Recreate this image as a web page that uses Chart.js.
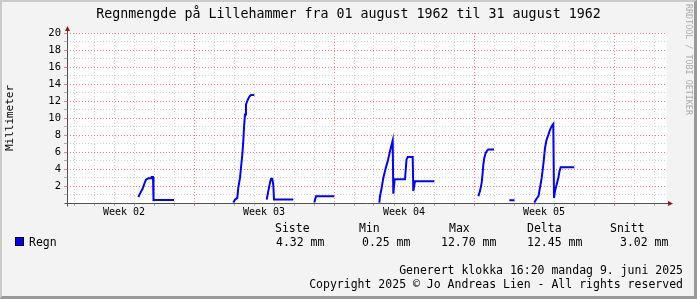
<!DOCTYPE html>
<html lang="no">
<head>
  <meta charset="UTF-8" />
  <title>Regnmengde på Lillehammer</title>
  <script src="https://cdn.jsdelivr.net/npm/chart.js"></script>
  <style>
    html, body { margin: 0; padding: 0; background: #f3f3f3; }
    #wrap {
      position: relative; width: 697px; height: 299px; overflow: hidden;
      font-family: "DejaVu Sans Mono", monospace; color: #000;
    }
    #wrap canvas { position: absolute; left: 0; top: 0; }
    #title {
      position: absolute; left: 0; top: 6px; width: 697px; text-align: center;
      font-size: 13.3px; line-height: 16px; white-space: pre;
    }
    .txt { position: absolute; white-space: pre; font-size: 11.5px; line-height: 14px; }
    .right { right: 14px; text-align: right; }
    #swatch {
      position: absolute; left: 15px; top: 237px; width: 7px; height: 7px;
      background: #0000ff; border: 1px solid #000;
    }
    #vendor {
      position: absolute; left: 685px; top: 4px; writing-mode: vertical-rl;
      font-size: 8.4px; line-height: 8px; color: #ababab; white-space: pre;
    }
    #frame {
      position: absolute; left: 0; top: 0; width: 697px; height: 299px; box-sizing: border-box;
      border-style: solid; border-width: 2px 3px 3px 2px;
      border-color: #cbcbcb #999 #999 #cbcbcb; pointer-events: none;
    }
  </style>
</head>
<body>
  <div id="wrap">
    <canvas id="rainChart" width="697" height="299"></canvas>
    <div id="title">Regnmengde på Lillehammer fra 01 august 1962 til 31 august 1962</div>
    <div id="vendor">RRDTOOL / TOBI OETIKER</div>
    <div id="legend"></div>
    <div id="frame"></div>
  </div>

  <script>
    // dag i perioden (0 = venstre kant av grafen) og nedbør i mm, null = hull i dataene
    const dayOfPeriod = [
      3.565, 3.65, 3.785, 3.865, 3.95, 4.065, 4.2, 4.235, 4.3, 4.325, 5.35, 5.8,
      8.315, 8.4, 8.515, 8.565, 8.65, 8.7, 8.765, 8.815, 8.85, 8.9, 8.95, 9.015, 9.1, 9.15, 9.2, 9.365, 9.6,
      9.985, 10.065, 10.15, 10.2, 10.265, 10.315, 10.35, 11.315, 11.8,
      12.365, 12.45, 13.365, 14.0,
      15.615, 15.65, 15.735, 15.815, 15.935, 16.035, 16.15, 16.235, 16.285, 16.315, 16.385,
      16.9, 16.975, 17.035, 17.285, 17.315, 17.4, 18.365, 19.0,
      20.565, 20.65, 20.735, 20.785, 20.815, 20.865, 20.935, 21.015, 21.065, 21.35, 21.7,
      22.115, 22.375, 22.8,
      23.365, 23.475, 23.575, 23.65, 23.735, 23.815, 23.9, 23.975, 24.065, 24.15, 24.25, 24.315,
      24.35, 24.4, 24.485, 24.565, 24.625, 24.685, 25.365
    ];
    const rainMm = [
      0.7, 1.1, 1.7, 2.25, 2.75, 2.9, 2.9, 3.05, 3.05, 0.35, 0.35, null,
      0.05, 0.4, 0.6, 1.8, 2.95, 4.15, 5.7, 7.25, 8.85, 10.4, 11.6, 12.0, 12.45, 12.6, 12.7, 12.7, null,
      0.4, 1.4, 2.4, 2.85, 2.85, 2.1, 0.4, 0.4, null,
      0.05, 0.8, 0.8, null,
      0.05, 0.8, 1.8, 2.95, 4.1, 4.9, 6.1, 6.9, 7.35, 1.1, 2.8,
      2.8, 5.1, 5.4, 5.4, 1.4, 2.55, 2.55, null,
      0.8, 1.4, 2.4, 3.6, 4.5, 5.3, 5.9, 6.2, 6.3, 6.3, null,
      0.33, 0.33, null,
      0.05, 0.5, 0.8, 1.8, 2.95, 4.5, 6.45, 7.4, 8.0, 8.6, 9.1, 9.3,
      0.6, 1.4, 2.2, 2.95, 3.75, 4.2, 4.2
    ];

    const weekLabels = ["Week 02", "Week 03", "Week 04", "Week 05"];
    const weekCenters = [2.85, 9.85, 16.85, 23.85]; // midt i hver uke
    const firstDayLine = 0.35; // første døgnskille
    const firstWeekLine = 6.35; // første ukeskille

    const statHeaders = ["Siste", "Min", "Max", "Delta", "Snitt"];
    const statValues = ["4.32 mm", "0.25 mm", "12.70 mm", "12.45 mm", "3.02 mm"];
    const seriesName = "Regn";
    const footerLines = [
      "Generert klokka 16:20 mandag 9. juni 2025",
      "Copyright 2025 © Jo Andreas Lien - All rights reserved"
    ];

    // plassering av legend-kolonnene
    const headerX = [275, 359, 449, 527, 610];
    const valueX = [276, 362, 441, 527, 620];

    const GRID = "#d2d2d2";
    const MGRID = "#f58080";
    const FONT = '"DejaVu Sans Mono", monospace';

    // legend og bunntekst
    const legend = document.getElementById("legend");
    let html = '<div id="swatch"></div><div class="txt" style="left:29px;top:235px">' + seriesName + "</div>";
    statHeaders.forEach((h, i) => {
      html += '<div class="txt" style="left:' + headerX[i] + 'px;top:221px">' + h + "</div>";
      html += '<div class="txt" style="left:' + valueX[i] + 'px;top:235px">' + statValues[i] + "</div>";
    });
    html += '<div class="txt right" style="top:263px">' + footerLines[0] + "</div>";
    html += '<div class="txt right" style="top:277px">' + footerLines[1] + "</div>";
    legend.innerHTML = html;

    // bakgrunn, akser og piler
    const rrdFrame = {
      id: "rrdFrame",
      beforeDraw(chart) {
        const { ctx, chartArea: a } = chart;
        ctx.save();
        ctx.fillStyle = "#f3f3f3";
        ctx.fillRect(0, 0, chart.width, chart.height);
        ctx.fillStyle = "#ffffff";
        ctx.fillRect(a.left, a.top, a.right - a.left, a.bottom - a.top);
        ctx.restore();
      },
      beforeDatasetsDraw(chart) {
        const { ctx, chartArea: a } = chart;
        const x0 = a.left + 0.5, y0 = a.bottom + 0.5;
        ctx.save();
        ctx.strokeStyle = "#505050";
        ctx.lineWidth = 1;
        ctx.beginPath();
        ctx.moveTo(x0, y0 + 3); ctx.lineTo(x0, a.top - 2);
        ctx.moveTo(x0 - 3, y0); ctx.lineTo(a.right + 2, y0);
        ctx.stroke();
        ctx.fillStyle = "#8b1a1a";
        ctx.beginPath();
        ctx.moveTo(x0 - 2.5, a.top - 2); ctx.lineTo(x0 + 2.5, a.top - 2); ctx.lineTo(x0, a.top - 7);
        ctx.fill();
        ctx.beginPath();
        ctx.moveTo(a.right + 1, y0 - 2.5); ctx.lineTo(a.right + 1, y0 + 2.5); ctx.lineTo(a.right + 6, y0);
        ctx.fill();
        ctx.restore();
      }
    };

    const points = dayOfPeriod.map((d, i) => ({ x: d, y: rainMm[i] }));

    new Chart(document.getElementById("rainChart"), {
      type: "line",
      data: {
        datasets: [{
          label: seriesName,
          data: points,
          borderColor: "#0000ff",
          borderWidth: 2,
          borderJoinStyle: "miter",
          pointRadius: 0,
          tension: 0,
          spanGaps: false,
          fill: false
        }]
      },
      options: {
        responsive: false,
        animation: false,
        layout: { padding: { left: 0, top: 33, right: 30, bottom: 76 } },
        plugins: { legend: { display: false }, tooltip: { enabled: false } },
        scales: {
          x: {
            type: "linear",
            min: 0,
            max: 30,
            afterFit: s => { s.height = 20; },
            afterBuildTicks: s => {
              const t = [];
              for (let k = 0; k < 30; k++) {
                const v = firstDayLine + k;
                const isWeek = Math.abs(((v - firstWeekLine) % 7 + 7) % 7) < 1e-6;
                t.push({ value: v, kind: isWeek ? "week" : "day" });
              }
              weekCenters.forEach((v, i) => t.push({ value: v, kind: "label", text: weekLabels[i] }));
              t.sort((p, q) => p.value - q.value);
              s.ticks = t;
            },
            ticks: {
              autoSkip: false,
              maxRotation: 0,
              minRotation: 0,
              padding: 1,
              color: "#000",
              font: { family: FONT, size: 10, lineHeight: 1 },
              callback: (v, i, ticks) => ticks[i].kind === "label" ? ticks[i].text : ""
            },
            grid: {
              color: c => !c.tick || c.tick.kind === "label" ? "rgba(0,0,0,0)" : (c.tick.kind === "week" ? MGRID : GRID),
              tickColor: c => !c.tick || c.tick.kind === "label" ? "rgba(0,0,0,0)" : (c.tick.kind === "week" ? MGRID : "#b0b0b0"),
              tickLength: 3,
              lineWidth: 1
            },
            border: { display: false, dash: [1, 2] }
          },
          y: {
            min: 0,
            max: 20,
            afterFit: s => { s.width = 67; },
            ticks: {
              stepSize: 1,
              autoSkip: false,
              padding: 3,
              color: "#000",
              font: { family: FONT, size: 10.5 },
              callback: v => (v > 0 && v % 2 === 0) ? v : ""
            },
            grid: {
              color: c => c.tick.value === 0 ? "rgba(0,0,0,0)" : (c.tick.value % 2 === 0 ? MGRID : GRID),
              tickColor: c => c.tick.value === 0 ? "rgba(0,0,0,0)" : (c.tick.value % 2 === 0 ? MGRID : "#b0b0b0"),
              tickLength: 3,
              lineWidth: 1
            },
            border: { display: false, dash: [1, 2] },
            title: {
              display: true,
              text: "Millimeter",
              color: "#000",
              font: { family: FONT, size: 11 },
              padding: { top: 4, bottom: 0 }
            }
          }
        }
      },
      plugins: [rrdFrame]
    });
  </script>
</body>
</html>
